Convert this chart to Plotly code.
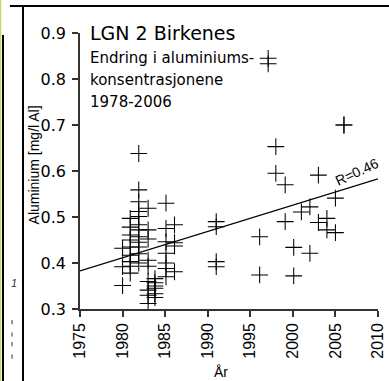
import plotly.graph_objects as go

# ---- data ----
years = [1980.0, 1980.0, 1980.0,
         1980.9, 1980.9, 1980.9, 1980.9, 1980.9, 1980.9, 1980.9, 1980.9, 1980.9,
         1981.9, 1981.9, 1981.9, 1981.9, 1981.9, 1981.9, 1981.9, 1981.9, 1981.9, 1981.9, 1981.9, 1981.9,
         1983.0, 1983.0, 1983.0, 1983.0, 1983.0, 1983.0, 1983.0, 1983.0, 1983.0,
         1983.8, 1983.8, 1983.8, 1983.8, 1983.8, 1983.8,
         1985.1, 1985.1, 1985.1, 1985.1, 1985.1, 1985.1, 1985.1,
         1986.1, 1986.1, 1986.1, 1986.1,
         1991.0, 1991.0, 1991.0, 1991.0,
         1996.1, 1996.1,
         1997.1, 1997.1,
         1998.0, 1998.0,
         1999.1, 1999.1,
         2000.1, 2000.1,
         2001.0,
         2002.0, 2002.0,
         2003.0, 2003.0,
         2004.0, 2004.0,
         2005.0, 2005.0,
         2006.0, 2006.0]
aluminium = [0.432, 0.392, 0.351,
             0.497, 0.478, 0.461, 0.450, 0.435, 0.417, 0.403, 0.393, 0.378,
             0.638, 0.559, 0.533, 0.512, 0.501, 0.483, 0.472, 0.457, 0.445, 0.435, 0.420, 0.400,
             0.519, 0.472, 0.452, 0.406, 0.393, 0.360, 0.341, 0.330, 0.312,
             0.357, 0.350, 0.345, 0.333, 0.325, 0.366,
             0.530, 0.475, 0.446, 0.421, 0.388, 0.370, 0.400,
             0.483, 0.437, 0.381, 0.444,
             0.490, 0.479, 0.403, 0.392,
             0.457, 0.374,
             0.845, 0.833,
             0.653, 0.595,
             0.570, 0.490,
             0.434, 0.372,
             0.511,
             0.522, 0.421,
             0.591, 0.488,
             0.497, 0.472,
             0.541, 0.466,
             0.700, 0.700]

reg_years = [1975, 2010]
reg_values = [0.383, 0.583]

x_ticks = [1975, 1980, 1985, 1990, 1995, 2000, 2005, 2010]
y_ticks = [0.3, 0.4, 0.5, 0.6, 0.7, 0.8, 0.9]

title_text = "LGN 2 Birkenes"
sub_lines = ["Endring i aluminiums-", "konsentrasjonene", "1978-2006"]
r_label = "R=0.46"

WIDE = "DejaVu Sans, Verdana, sans-serif"
NARROW = "Liberation Sans, Arial, sans-serif"

fig = go.Figure()
fig.add_trace(go.Scatter(
    x=reg_years, y=reg_values, mode="lines",
    line=dict(color="black", width=1.3), hoverinfo="skip", showlegend=False))
fig.add_trace(go.Scatter(
    x=years, y=aluminium, mode="markers",
    marker=dict(symbol="cross-thin", size=12, color="black",
                line=dict(color="black", width=1.05)),
    showlegend=False))

axis_common = dict(showgrid=False, zeroline=False, showline=True,
                   linecolor="#333", linewidth=1.5, ticks="outside",
                   ticklen=6, tickwidth=1.5, tickcolor="#333",
                   automargin=False)

fig.update_xaxes(range=[1975, 2010], tickvals=x_ticks, tickangle=-90,
                 tickfont=dict(family=NARROW, size=16, color="black"),
                 **axis_common)
fig.update_yaxes(range=[0.3, 0.9], tickvals=y_ticks, tickformat=".1f",
                 tickfont=dict(family=WIDE, size=16, color="black"),
                 ticklabelstandoff=3,
                 **axis_common)

annotations = [
    dict(text=title_text, x=0.027, y=1.0, xanchor="left", yanchor="middle",
         font=dict(family=WIDE, size=19, color="black")),
    dict(text=sub_lines[0], x=0.027, y=0.909, xanchor="left", yanchor="middle",
         font=dict(family=WIDE, size=15, color="black")),
    dict(text=sub_lines[1], x=0.027, y=0.830, xanchor="left", yanchor="middle",
         font=dict(family=WIDE, size=15, color="black")),
    dict(text=sub_lines[2], x=0.027, y=0.750, xanchor="left", yanchor="middle",
         font=dict(family=WIDE, size=15, color="black")),
    dict(text="Aluminium [mg/l Al]", x=-0.156, y=0.522, textangle=-90,
         xanchor="center", yanchor="middle",
         font=dict(family=NARROW, size=14, color="black")),
    dict(text="År", x=0.473, y=-0.228, xanchor="center", yanchor="middle",
         font=dict(family=NARROW, size=14, color="black")),
    dict(text=r_label, x=0.928, y=0.497, textangle=-25,
         xanchor="center", yanchor="middle",
         font=dict(family=NARROW, size=14, color="black")),
    dict(text="<i>1</i>", x=-0.222, y=0.094, xanchor="center", yanchor="middle",
         font=dict(family=NARROW, size=11, color="#333")),
]
for a in annotations:
    a.update(xref="paper", yref="paper", showarrow=False)

shapes = [
    dict(type="line", x0=-0.235, x1=1.04, y0=1.0978, y1=1.0978,
         line=dict(color="black", width=2)),
    dict(type="line", x0=-0.1913, x1=-0.1913, y0=1.0978, y1=-0.27,
         line=dict(color="black", width=2)),
    dict(type="line", x0=-0.2584, x1=-0.2584, y0=0.993, y1=-0.27,
         line=dict(color="black", width=2)),
    dict(type="line", x0=-0.2668, x1=-0.2668, y0=1.2, y1=-0.27,
         line=dict(color="#c8d46a", width=1.5)),
]
# small fragments at the left margin
for y0 in [-0.04, -0.085, -0.12, -0.165]:
    shapes.append(dict(type="line", x0=-0.228, x1=-0.228, y0=y0, y1=y0 - 0.015,
                       line=dict(color="#555", width=1.2)))
for s in shapes:
    s.update(xref="paper", yref="paper")

fig.update_layout(
    width=389, height=381,
    margin=dict(l=80, r=11, t=33, b=72),
    paper_bgcolor="white", plot_bgcolor="white",
    annotations=annotations, shapes=shapes,
    showlegend=False,
)

fig.write_html("out.html",
               config={"displayModeBar": False},
               post_script="document.body.style.margin='0px';document.body.style.overflow='hidden';")
